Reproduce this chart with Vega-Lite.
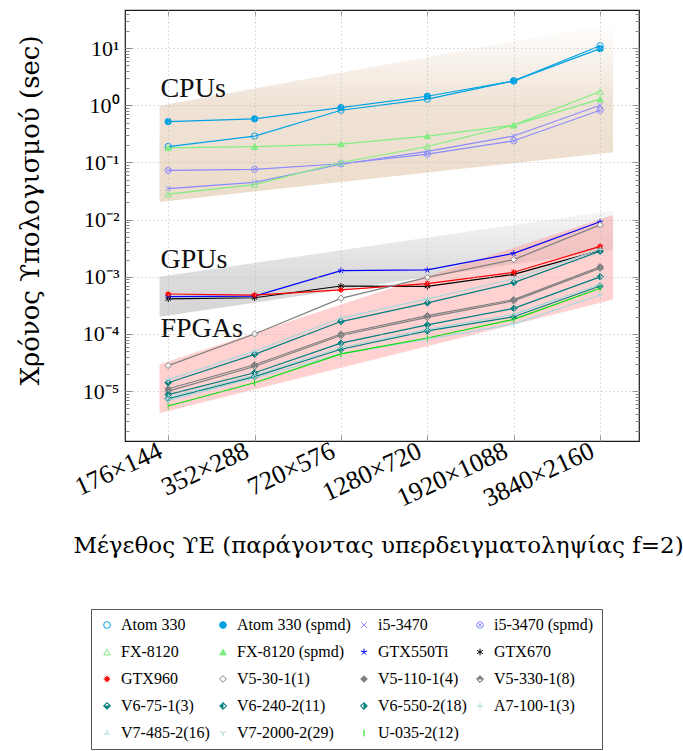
{
  "$schema": "https://vega.github.io/schema/vega-lite/v6.json",
  "width": 514,
  "height": 431,
  "autosize": {"type": "none"},
  "padding": {"left": 125, "top": 10, "right": 44, "bottom": 310},
  "background": "white",
  "config": {
    "font": "Liberation Serif",
    "view": {"stroke": "#1a1a1a", "strokeWidth": 1.2},
    "axis": {"domain": false}
  },
  "datasets": {
    "bands": [
      {"band": "CPU", "x": -0.1, "top": 0.98, "bot": 0.0204},
      {"band": "CPU", "x": 5.15, "top": 27.5, "bot": 0.151},
      {"band": "GPU", "x": -0.1, "top": 0.001, "bot": 0.0002},
      {"band": "GPU", "x": 5.15, "top": 0.0145, "bot": 0.003},
      {"band": "FPGA", "x": -0.1, "top": 0.0000295, "bot": 0.0000041},
      {"band": "FPGA", "x": 5.15, "top": 0.012, "bot": 0.0004}
    ],
    "labels": [
      {"label": "CPUs", "x": -0.09, "t": 1.4},
      {"label": "GPUs", "x": -0.09, "t": 0.00143},
      {"label": "FPGAs", "x": -0.09, "t": 0.000087}
    ],
    "runs": [
      {"s": "Atom 330", "x": 0, "t": 0.19}, {"s": "Atom 330", "x": 1, "t": 0.29}, {"s": "Atom 330", "x": 2, "t": 0.82}, {"s": "Atom 330", "x": 3, "t": 1.28}, {"s": "Atom 330", "x": 4, "t": 2.67}, {"s": "Atom 330", "x": 5, "t": 11.0},
      {"s": "Atom 330 (spmd)", "x": 0, "t": 0.52}, {"s": "Atom 330 (spmd)", "x": 1, "t": 0.58}, {"s": "Atom 330 (spmd)", "x": 2, "t": 0.91}, {"s": "Atom 330 (spmd)", "x": 3, "t": 1.44}, {"s": "Atom 330 (spmd)", "x": 4, "t": 2.67}, {"s": "Atom 330 (spmd)", "x": 5, "t": 9.8},
      {"s": "i5-3470", "x": 0, "t": 0.035}, {"s": "i5-3470", "x": 1, "t": 0.045}, {"s": "i5-3470", "x": 2, "t": 0.093}, {"s": "i5-3470", "x": 3, "t": 0.156}, {"s": "i5-3470", "x": 4, "t": 0.29}, {"s": "i5-3470", "x": 5, "t": 1.0},
      {"s": "i5-3470 (spmd)", "x": 0, "t": 0.073}, {"s": "i5-3470 (spmd)", "x": 1, "t": 0.076}, {"s": "i5-3470 (spmd)", "x": 2, "t": 0.095}, {"s": "i5-3470 (spmd)", "x": 3, "t": 0.14}, {"s": "i5-3470 (spmd)", "x": 4, "t": 0.24}, {"s": "i5-3470 (spmd)", "x": 5, "t": 0.82},
      {"s": "FX-8120", "x": 0, "t": 0.028}, {"s": "FX-8120", "x": 1, "t": 0.041}, {"s": "FX-8120", "x": 2, "t": 0.1}, {"s": "FX-8120", "x": 3, "t": 0.19}, {"s": "FX-8120", "x": 4, "t": 0.45}, {"s": "FX-8120", "x": 5, "t": 1.74},
      {"s": "FX-8120 (spmd)", "x": 0, "t": 0.18}, {"s": "FX-8120 (spmd)", "x": 1, "t": 0.19}, {"s": "FX-8120 (spmd)", "x": 2, "t": 0.21}, {"s": "FX-8120 (spmd)", "x": 3, "t": 0.29}, {"s": "FX-8120 (spmd)", "x": 4, "t": 0.45}, {"s": "FX-8120 (spmd)", "x": 5, "t": 1.28},
      {"s": "GTX550Ti", "x": 0, "t": 0.00045}, {"s": "GTX550Ti", "x": 1, "t": 0.00046}, {"s": "GTX550Ti", "x": 2, "t": 0.00128}, {"s": "GTX550Ti", "x": 3, "t": 0.00132}, {"s": "GTX550Ti", "x": 4, "t": 0.00257}, {"s": "GTX550Ti", "x": 5, "t": 0.0092},
      {"s": "GTX670", "x": 0, "t": 0.00041}, {"s": "GTX670", "x": 1, "t": 0.00043}, {"s": "GTX670", "x": 2, "t": 0.00069}, {"s": "GTX670", "x": 3, "t": 0.00068}, {"s": "GTX670", "x": 4, "t": 0.0011}, {"s": "GTX670", "x": 5, "t": 0.0029},
      {"s": "GTX960", "x": 0, "t": 0.0005}, {"s": "GTX960", "x": 1, "t": 0.00048}, {"s": "GTX960", "x": 2, "t": 0.00059}, {"s": "GTX960", "x": 3, "t": 0.00076}, {"s": "GTX960", "x": 4, "t": 0.0012}, {"s": "GTX960", "x": 5, "t": 0.0034},
      {"s": "V5-30-1(1)", "x": 0, "t": 0.000028}, {"s": "V5-30-1(1)", "x": 1, "t": 0.0001}, {"s": "V5-30-1(1)", "x": 2, "t": 0.00042}, {"s": "V5-30-1(1)", "x": 3, "t": 0.00098}, {"s": "V5-30-1(1)", "x": 4, "t": 0.002}, {"s": "V5-30-1(1)", "x": 5, "t": 0.0081},
      {"s": "V5-110-1(4)", "x": 0, "t": 0.000011}, {"s": "V5-110-1(4)", "x": 1, "t": 0.000029}, {"s": "V5-110-1(4)", "x": 2, "t": 0.0001}, {"s": "V5-110-1(4)", "x": 3, "t": 0.00021}, {"s": "V5-110-1(4)", "x": 4, "t": 0.0004}, {"s": "V5-110-1(4)", "x": 5, "t": 0.0015},
      {"s": "V5-330-1(8)", "x": 0, "t": 0.00001}, {"s": "V5-330-1(8)", "x": 1, "t": 0.000027}, {"s": "V5-330-1(8)", "x": 2, "t": 0.000094}, {"s": "V5-330-1(8)", "x": 3, "t": 0.000195}, {"s": "V5-330-1(8)", "x": 4, "t": 0.00038}, {"s": "V5-330-1(8)", "x": 5, "t": 0.00142},
      {"s": "V6-75-1(3)", "x": 0, "t": 0.000014}, {"s": "V6-75-1(3)", "x": 1, "t": 0.000044}, {"s": "V6-75-1(3)", "x": 2, "t": 0.000165}, {"s": "V6-75-1(3)", "x": 3, "t": 0.00035}, {"s": "V6-75-1(3)", "x": 4, "t": 0.00079}, {"s": "V6-75-1(3)", "x": 5, "t": 0.0028},
      {"s": "V6-240-2(11)", "x": 0, "t": 0.0000087}, {"s": "V6-240-2(11)", "x": 1, "t": 0.000021}, {"s": "V6-240-2(11)", "x": 2, "t": 0.000069}, {"s": "V6-240-2(11)", "x": 3, "t": 0.000144}, {"s": "V6-240-2(11)", "x": 4, "t": 0.00028}, {"s": "V6-240-2(11)", "x": 5, "t": 0.001},
      {"s": "V6-550-2(18)", "x": 0, "t": 0.0000074}, {"s": "V6-550-2(18)", "x": 1, "t": 0.000018}, {"s": "V6-550-2(18)", "x": 2, "t": 0.000054}, {"s": "V6-550-2(18)", "x": 3, "t": 0.000113}, {"s": "V6-550-2(18)", "x": 4, "t": 0.0002}, {"s": "V6-550-2(18)", "x": 5, "t": 0.00069},
      {"s": "A7-100-1(3)", "x": 0, "t": 0.000016}, {"s": "A7-100-1(3)", "x": 1, "t": 0.00005}, {"s": "A7-100-1(3)", "x": 2, "t": 0.00019}, {"s": "A7-100-1(3)", "x": 3, "t": 0.00041}, {"s": "A7-100-1(3)", "x": 4, "t": 0.00092}, {"s": "A7-100-1(3)", "x": 5, "t": 0.003},
      {"s": "V7-485-2(16)", "x": 0, "t": 0.0000078}, {"s": "V7-485-2(16)", "x": 1, "t": 0.000019}, {"s": "V7-485-2(16)", "x": 2, "t": 0.000058}, {"s": "V7-485-2(16)", "x": 3, "t": 0.00012}, {"s": "V7-485-2(16)", "x": 4, "t": 0.00022}, {"s": "V7-485-2(16)", "x": 5, "t": 0.00074},
      {"s": "V7-2000-2(29)", "x": 0, "t": 0.0000069}, {"s": "V7-2000-2(29)", "x": 1, "t": 0.000017}, {"s": "V7-2000-2(29)", "x": 2, "t": 0.000045}, {"s": "V7-2000-2(29)", "x": 3, "t": 0.000081}, {"s": "V7-2000-2(29)", "x": 4, "t": 0.00015}, {"s": "V7-2000-2(29)", "x": 5, "t": 0.00048},
      {"s": "U-035-2(12)", "x": 0, "t": 0.0000055}, {"s": "U-035-2(12)", "x": 1, "t": 0.000014}, {"s": "U-035-2(12)", "x": 2, "t": 0.000045}, {"s": "U-035-2(12)", "x": 3, "t": 0.000085}, {"s": "U-035-2(12)", "x": 4, "t": 0.00018}, {"s": "U-035-2(12)", "x": 5, "t": 0.00063}
    ]
  },
  "layer": [
    {
      "layer": [
        {
          "data": {"name": "bands"},
          "transform": [{"filter": "datum.band === 'CPU'"}],
          "mark": {
            "type": "area",
            "color": {
              "gradient": "linear", "x1": 0, "y1": 0, "x2": 0, "y2": 1,
              "stops": [
                {"offset": 0, "color": "#ffffff"},
                {"offset": 0.45, "color": "#f0e3d6"},
                {"offset": 1, "color": "#ecdccb"}
              ]
            }
          },
          "encoding": {
            "x": {
              "field": "x", "type": "quantitative",
              "scale": {"domain": [-0.5, 5.45], "nice": false, "zero": false},
              "axis": {
                "orient": "bottom",
                "values": [0, 1, 2, 3, 4, 5],
                "labelExpr": "['176×144','352×288','720×576','1280×720','1920×1088','3840×2160'][datum.value]",
                "labelAngle": -25,
                "labelAlign": "right",
                "labelBaseline": "middle",
                "labelFontSize": 26,
                "labelColor": "#000",
                "labelPadding": 14,
                "labelOffset": -8,
                "labelOverlap": false,
                "labelFlush": false,
                "tickSize": -6,
                "tickColor": "#999",
                "grid": true,
                "gridDash": [1, 3],
                "gridColor": "#bbb",
                "title": "Μέγεθος ϒΕ (παράγοντας υπερδειγματοληψίας f=2)",
                "titleFont": "DejaVu Serif",
                "titleFontSize": 23,
                "titleFontWeight": "normal",
                "titleColor": "#000",
                "titleX": 253,
                "titleY": 111,
                "titleAlign": "center",
                "titleBaseline": "alphabetic",
                "zindex": 1
              }
            },
            "y": {
              "field": "top", "type": "quantitative",
              "scale": {"type": "log", "domain": [1.343e-6, 46.45], "nice": false},
              "axis": {
                "orient": "left",
                "values": [2e-6, 3e-6, 4e-6, 5e-6, 6e-6, 7e-6, 8e-6, 9e-6,
                           1e-5, 2e-5, 3e-5, 4e-5, 5e-5, 6e-5, 7e-5, 8e-5, 9e-5,
                           1e-4, 2e-4, 3e-4, 4e-4, 5e-4, 6e-4, 7e-4, 8e-4, 9e-4,
                           0.001, 0.002, 0.003, 0.004, 0.005, 0.006, 0.007, 0.008, 0.009,
                           0.01, 0.02, 0.03, 0.04, 0.05, 0.06, 0.07, 0.08, 0.09,
                           0.1, 0.2, 0.3, 0.4, 0.5, 0.6, 0.7, 0.8, 0.9,
                           1, 2, 3, 4, 5, 6, 7, 8, 9, 10, 20, 30, 40],
                "labelExpr": "abs(log(datum.value)/LN10 - round(log(datum.value)/LN10)) < 0.001 ? '10' + ['⁻⁵','⁻⁴','⁻³','⁻²','⁻¹','⁰','¹'][round(log(datum.value)/LN10) + 5] : ''",
                "labelFontSize": 22,
                "labelColor": "#000",
                "labelPadding": 13,
                "labelOverlap": false,
                "labelFlush": false,
                "tickSize": {"condition": {"test": "abs(log(datum.value)/LN10 - round(log(datum.value)/LN10)) < 0.001", "value": -7}, "value": -4},
                "tickColor": "#888",
                "grid": true,
                "gridOpacity": {"condition": {"test": "abs(log(datum.value)/LN10 - round(log(datum.value)/LN10)) < 0.001", "value": 1}, "value": 0},
                "gridDash": [1, 3],
                "gridColor": "#bbb",
                "title": "Χρόνος ϒπολογισμού (sec)",
                "titleFont": "DejaVu Serif",
                "titleFontSize": 26,
                "titleFontWeight": "normal",
                "titleColor": "#000",
                "titleAngle": -90,
                "titleX": -95,
                "titleY": 200,
                "titleAlign": "center",
                "titleBaseline": "middle",
                "zindex": 1
              }
            },
            "y2": {"field": "bot"}
          }
        },
        {
          "data": {"name": "bands"},
          "transform": [{"filter": "datum.band === 'GPU'"}],
          "mark": {
            "type": "area",
            "color": {
              "gradient": "linear", "x1": 0, "y1": 0, "x2": 0, "y2": 1,
              "stops": [
                {"offset": 0, "color": "#f6f6f6"},
                {"offset": 0.6, "color": "#dcdcdc"},
                {"offset": 1, "color": "#d5d5d5"}
              ]
            }
          },
          "encoding": {
            "x": {"field": "x", "type": "quantitative", "scale": {"domain": [-0.5, 5.45], "nice": false, "zero": false}},
            "y": {"field": "top", "type": "quantitative", "scale": {"type": "log", "domain": [1.343e-6, 46.45], "nice": false}},
            "y2": {"field": "bot"}
          }
        },
        {
          "data": {"name": "bands"},
          "transform": [{"filter": "datum.band === 'FPGA'"}],
          "mark": {"type": "area", "color": "#ff9a9a", "opacity": 0.45},
          "encoding": {
            "x": {"field": "x", "type": "quantitative", "scale": {"domain": [-0.5, 5.45], "nice": false, "zero": false}},
            "y": {"field": "top", "type": "quantitative", "scale": {"type": "log", "domain": [1.343e-6, 46.45], "nice": false}},
            "y2": {"field": "bot"}
          }
        },
        {
          "data": {"name": "labels"},
          "mark": {"type": "text", "align": "left", "baseline": "alphabetic", "fontSize": 28, "color": "#111"},
          "encoding": {
            "x": {"field": "x", "type": "quantitative", "scale": {"domain": [-0.5, 5.45], "nice": false, "zero": false}},
            "y": {"field": "t", "type": "quantitative", "scale": {"type": "log", "domain": [1.343e-6, 46.45], "nice": false}},
            "text": {"field": "label"}
          }
        },
        {
          "data": {"name": "runs"},
          "mark": {"type": "line", "strokeWidth": 1.2},
          "encoding": {
            "x": {"field": "x", "type": "quantitative", "scale": {"domain": [-0.5, 5.45], "nice": false, "zero": false}},
            "y": {"field": "t", "type": "quantitative", "scale": {"type": "log", "domain": [1.343e-6, 46.45], "nice": false}},
            "detail": {"field": "s", "type": "nominal"},
            "stroke": {
              "field": "s", "type": "nominal", "title": null,
              "scale": {
                "domain": ["Atom 330", "Atom 330 (spmd)", "i5-3470", "i5-3470 (spmd)", "FX-8120", "FX-8120 (spmd)", "GTX550Ti", "GTX670", "GTX960", "V5-30-1(1)", "V5-110-1(4)", "V5-330-1(8)", "V6-75-1(3)", "V6-240-2(11)", "V6-550-2(18)", "A7-100-1(3)", "V7-485-2(16)", "V7-2000-2(29)", "U-035-2(12)"],
                "range": ["#00a2e3", "#00a2e3", "#8a8aff", "#8a8aff", "#80ee80", "#80ee80", "#0000ff", "#000000", "#ff0000", "#7f7f7f", "#7f7f7f", "#7f7f7f", "#008080", "#008080", "#008080", "#a6d8dc", "#a6d8dc", "#a6d8dc", "#00e000"]
              }
            }
          }
        },
        {
          "data": {"name": "runs"},
          "mark": {"type": "point", "size": 40, "strokeWidth": 1, "opacity": 1},
          "encoding": {
            "x": {"field": "x", "type": "quantitative", "scale": {"domain": [-0.5, 5.45], "nice": false, "zero": false}},
            "y": {"field": "t", "type": "quantitative", "scale": {"type": "log", "domain": [1.343e-6, 46.45], "nice": false}},
            "stroke": {
              "field": "s", "type": "nominal", "title": null,
              "legend": {
                "orient": "none",
                "legendX": -34,
                "legendY": 599,
                "direction": "horizontal",
                "columns": 4,
                "gridAlign": "each",
                "strokeColor": "#555",
                "padding": 8,
                "labelFont": "Liberation Serif",
                "labelFontSize": 16,
                "labelColor": "#000",
                "labelLimit": 400,
                "symbolSize": 45,
                "symbolStrokeWidth": 1,
                "rowPadding": 11,
                "columnPadding": 5,
                "labelOffset": 6
              }
            },
            "fill": {
              "field": "s", "type": "nominal", "title": null,
              "scale": {
                "domain": ["Atom 330", "Atom 330 (spmd)", "i5-3470", "i5-3470 (spmd)", "FX-8120", "FX-8120 (spmd)", "GTX550Ti", "GTX670", "GTX960", "V5-30-1(1)", "V5-110-1(4)", "V5-330-1(8)", "V6-75-1(3)", "V6-240-2(11)", "V6-550-2(18)", "A7-100-1(3)", "V7-485-2(16)", "V7-2000-2(29)", "U-035-2(12)"],
                "range": ["transparent", "#00a2e3", "transparent", "transparent", "transparent", "#80ee80", "transparent", "transparent", "#ff0000", "#ffffff", "#7f7f7f", "#7f7f7f", "#008080", "#008080", "#008080", "transparent", "transparent", "transparent", "transparent"]
              }
            },
            "shape": {
              "field": "s", "type": "nominal", "title": null,
              "scale": {
                "domain": ["Atom 330", "Atom 330 (spmd)", "i5-3470", "i5-3470 (spmd)", "FX-8120", "FX-8120 (spmd)", "GTX550Ti", "GTX670", "GTX960", "V5-30-1(1)", "V5-110-1(4)", "V5-330-1(8)", "V6-75-1(3)", "V6-240-2(11)", "V6-550-2(18)", "A7-100-1(3)", "V7-485-2(16)", "V7-2000-2(29)", "U-035-2(12)"],
                "range": [
                  "circle",
                  "circle",
                  "M-0.8,-0.8L0.8,0.8M-0.8,0.8L0.8,-0.8",
                  "M-1,0A1,1 0 1,0 1,0A1,1 0 1,0 -1,0ZM-0.7,-0.7L0.7,0.7M-0.7,0.7L0.7,-0.7",
                  "triangle-up",
                  "triangle-up",
                  "M0,-1L0,0M0.95,-0.31L0,0M0.59,0.81L0,0M-0.59,0.81L0,0M-0.95,-0.31L0,0",
                  "M0,-1L0,1M-0.87,-0.5L0.87,0.5M-0.87,0.5L0.87,-0.5",
                  "M0,-1L0,1M-1,0L1,0M-0.7,-0.7L0.7,0.7M-0.7,0.7L0.7,-0.7M-0.55,0A0.55,0.55 0 1,0 0.55,0A0.55,0.55 0 1,0 -0.55,0Z",
                  "diamond",
                  "diamond",
                  "M-1,0L0,-1L1,0ZM-1,0L0,1L1,0L0,1Z",
                  "M-1,0L0,1L1,0ZM-1,0L0,-1L1,0L0,-1Z",
                  "M0,-1L-1,0L0,1ZM0,-1L1,0L0,1L1,0Z",
                  "M0,-1L1,0L0,1ZM0,-1L-1,0L0,1L-1,0Z",
                  "M-1,0L1,0M0,-1L0,1",
                  "M0,0L0,-1M0,0L-0.87,0.5M0,0L0.87,0.5",
                  "M0,0L0,1M0,0L-0.87,-0.5M0,0L0.87,-0.5",
                  "M0,-1L0,1"
                ]
              }
            }
          }
        }
      ]
    },
    {
      "data": {"values": [{"x": 0, "t": 1}]},
      "mark": {"type": "point", "opacity": 0},
      "encoding": {
        "x": {
          "field": "x", "type": "quantitative",
          "scale": {"domain": [-0.5, 5.45], "nice": false, "zero": false},
          "axis": {"orient": "top", "values": [0, 1, 2, 3, 4, 5], "labels": false, "tickSize": -6, "tickColor": "#999", "grid": false, "title": null, "domain": false}
        },
        "y": {
          "field": "t", "type": "quantitative",
          "scale": {"type": "log", "domain": [1.343e-6, 46.45], "nice": false},
          "axis": {
            "orient": "right",
            "values": [2e-6, 3e-6, 4e-6, 5e-6, 6e-6, 7e-6, 8e-6, 9e-6,
                       1e-5, 2e-5, 3e-5, 4e-5, 5e-5, 6e-5, 7e-5, 8e-5, 9e-5,
                       1e-4, 2e-4, 3e-4, 4e-4, 5e-4, 6e-4, 7e-4, 8e-4, 9e-4,
                       0.001, 0.002, 0.003, 0.004, 0.005, 0.006, 0.007, 0.008, 0.009,
                       0.01, 0.02, 0.03, 0.04, 0.05, 0.06, 0.07, 0.08, 0.09,
                       0.1, 0.2, 0.3, 0.4, 0.5, 0.6, 0.7, 0.8, 0.9,
                       1, 2, 3, 4, 5, 6, 7, 8, 9, 10, 20, 30, 40],
            "labels": false,
            "tickSize": {"condition": {"test": "abs(log(datum.value)/LN10 - round(log(datum.value)/LN10)) < 0.001", "value": -7}, "value": -4},
            "tickColor": "#888",
            "grid": false,
            "title": null,
            "domain": false
          }
        }
      }
    }
  ],
  "resolve": {"axis": {"x": "independent", "y": "independent"}}
}
